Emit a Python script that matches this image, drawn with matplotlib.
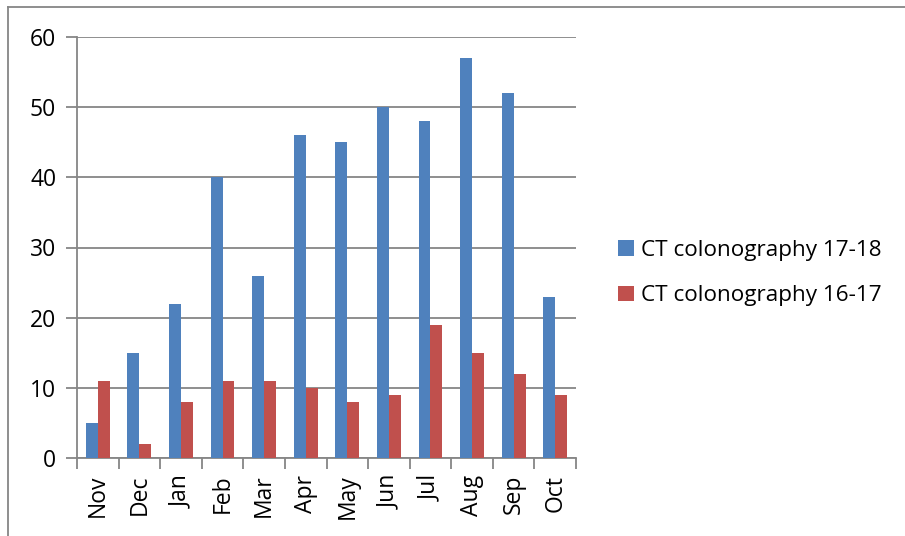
import matplotlib.pyplot as plt
from matplotlib.lines import Line2D
import numpy as np

months = ['Nov', 'Dec', 'Jan', 'Feb', 'Mar', 'Apr', 'May', 'Jun', 'Jul', 'Aug', 'Sep', 'Oct']
ct_17_18 = [5, 15, 22, 40, 26, 46, 45, 50, 48, 57, 52, 23]
ct_16_17 = [11, 2, 8, 11, 11, 10, 8, 9, 19, 15, 12, 9]
y_ticks = [0, 10, 20, 30, 40, 50, 60]

blue = '#4F81BD'
red = '#C0504D'
grey = '#868686'

plt.rcParams['font.family'] = ['Open Sans', 'DejaVu Sans']

W, H = 905, 536
fig = plt.figure(figsize=(W / 100, H / 100), dpi=100)

# plot area in pixels: left 77, right 576, top 37, bottom 458
ax = fig.add_axes([77 / W, 1 - 458 / H, (576 - 77) / W, (458 - 37) / H])

x = np.arange(len(months))
bw = 1 / 3.5
ax.bar(x - bw / 2, ct_17_18, bw, color=blue, label='CT colonography 17-18', zorder=3)
ax.bar(x + bw / 2, ct_16_17, bw, color=red, label='CT colonography 16-17', zorder=3)

ax.set_xlim(-0.5, len(months) - 0.5)
ax.set_ylim(0, 60)
ax.set_yticks(y_ticks)
ax.yaxis.grid(True, color=grey, linewidth=1.3, zorder=0)
ax.set_axisbelow(True)

# category labels between boundary ticks
ax.set_xticks(x)
ax.set_xticklabels(months, rotation=90, fontsize=16.5)
ax.tick_params(axis='x', length=0, pad=12)
ax.set_xticks(np.arange(-0.5, len(months)), minor=True)
ax.tick_params(axis='x', which='minor', length=8, width=1.3, color=grey)
ax.tick_params(axis='y', length=8, width=1.3, color=grey, labelsize=16.5, pad=7)

for s in ['top', 'right']:
    ax.spines[s].set_visible(False)
for s in ['left', 'bottom']:
    ax.spines[s].set_color(grey)
    ax.spines[s].set_linewidth(1.3)

fig.legend(loc='center left', bbox_to_anchor=(609 / W, 1 - 273 / H), frameon=False,
           fontsize=16.2, handlelength=0.7, handleheight=0.7, handletextpad=0.3,
           labelspacing=1.1, borderaxespad=0)

# outer chart frame
fig.add_artist(Line2D([8 / W, 1], [1 - 7 / H, 1 - 7 / H], color=grey, linewidth=1.3,
                      transform=fig.transFigure))
fig.add_artist(Line2D([8 / W, 8 / W], [0, 1 - 7 / H], color=grey, linewidth=1.3,
                      transform=fig.transFigure))

fig.savefig('out.png', dpi=100)
